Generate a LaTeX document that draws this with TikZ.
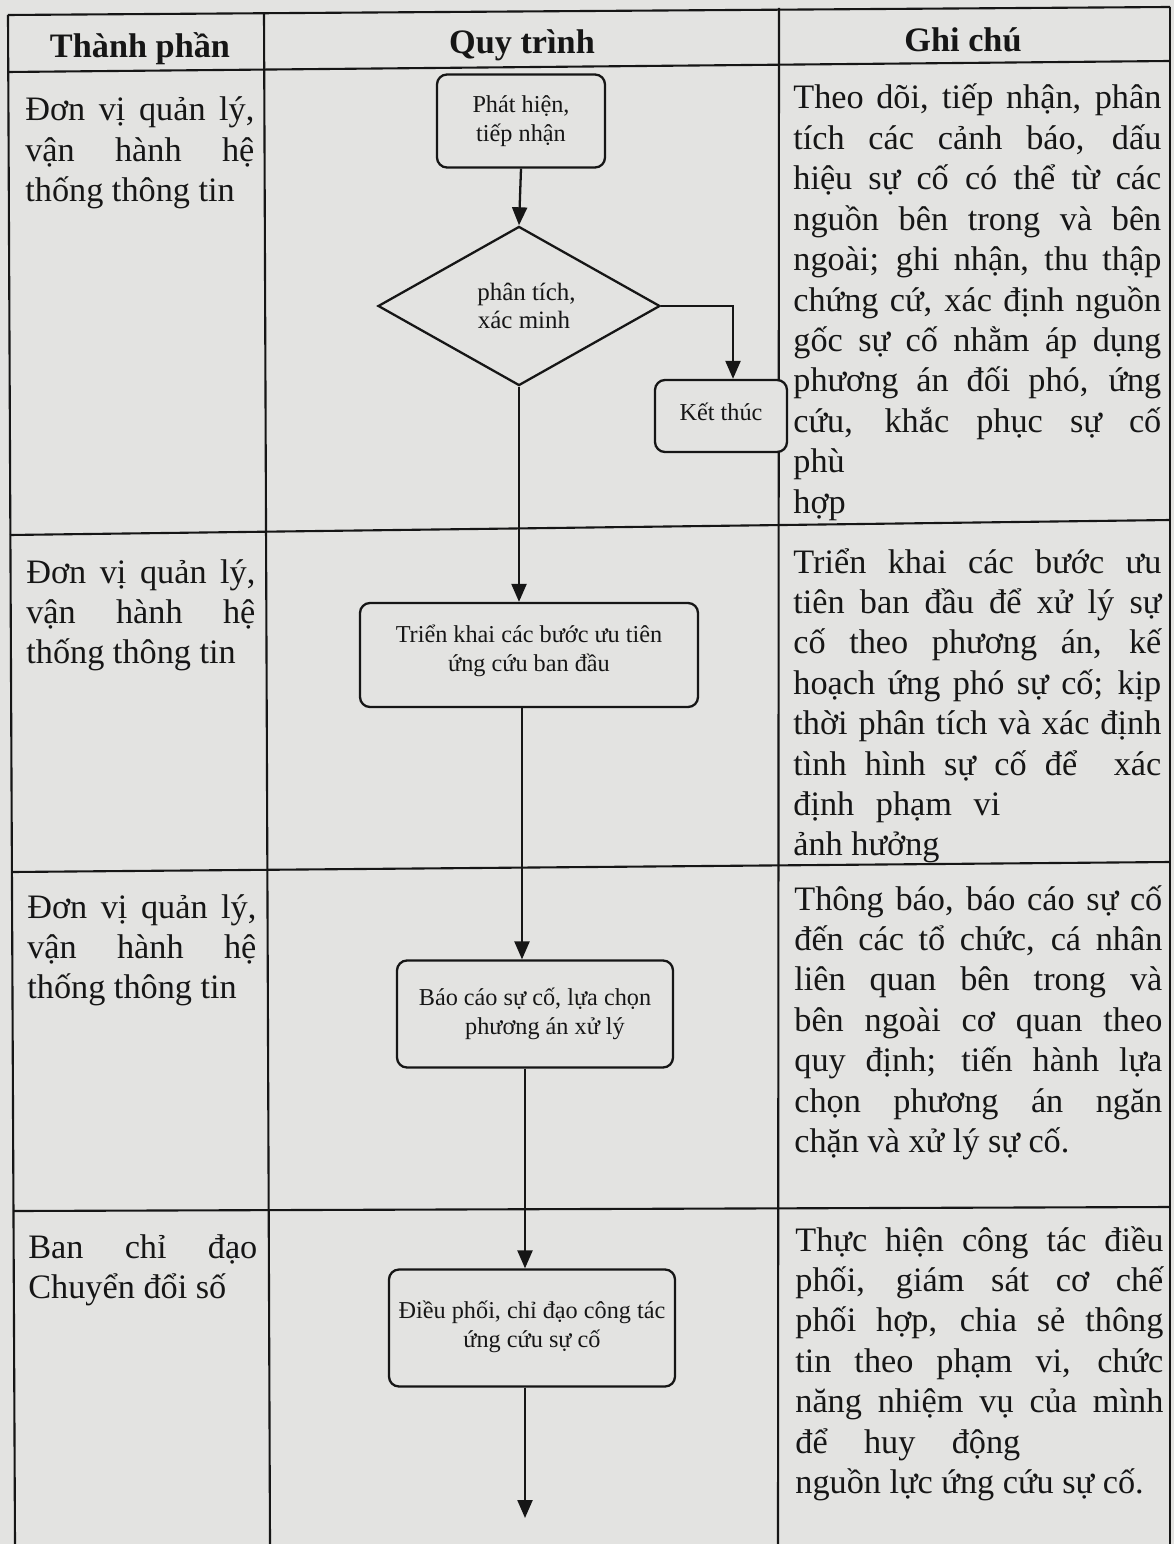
\documentclass[tikz,border=0pt]{standalone}
\usepackage{fontspec}
\setmainfont{Liberation Serif}
\usepackage{xcolor}
\usepackage{tikz}
\usetikzlibrary{shapes.geometric,arrows.meta}
\definecolor{paper}{HTML}{E3E3E1}
\definecolor{ink}{HTML}{161616}
\newcommand{\fillline}[1]{\makebox[\linewidth][s]{#1}}
\tikzset{
  grid/.style={draw=ink, line width=1.2pt},
  stepbox/.style={draw=ink, fill=paper, line width=1.3pt, rounded corners=2mm, align=center, inner sep=1pt, font=\fontsize{13.8}{16.5}\selectfont},
  decision/.style={diamond, draw=ink, line width=1.3pt, align=center, inner sep=0pt, font=\fontsize{14.2}{16}\selectfont},
  flow/.style={draw=ink, line width=1.3pt, -{Triangle[length=3.6mm,width=3mm]}},
  head/.style={font=\fontsize{19.5}{23}\selectfont\bfseries},
  cell/.style={anchor=base west, inner sep=0pt, font=\fontsize{19.5}{23}\selectfont},
  every node/.style={text=ink}
}

\begin{document}
\begin{tikzpicture}[x=0.2mm,y=-0.2mm]
  \useasboundingbox (0,0) rectangle (1174,1544);
  \fill[paper] (0,0) rectangle (1174,1544);

  % table lines
  \draw[grid] (8,15) -- (1170,7);
  \draw[grid] (8,72) -- (1170,61);
  \draw[grid] (10,535) -- (1170,520);
  \draw[grid] (12,872) -- (1170,862);
  \draw[grid] (14,1211) -- (1170,1207);
  \draw[grid] (8,15) -- (15,1544);
  \draw[grid] (264,13) -- (270,1544);
  \draw[grid] (779,8) -- (778,1544);
  \draw[grid] (1170,7) -- (1170,1544);

  % header
  \node[head] (hpart) at (140,49) {Thành phần};
  \node[head] (hflow) at (522,45) {Quy trình};
  \node[head] (hnote) at (963,40) {Ghi chú};

  % who
  \node[cell] (who1) at (25,121) {\parbox[t]{45.8mm}{\fillline{Đơn vị quản lý,}\\\fillline{vận hành hệ}\\thống thông tin}};
  \node[cell] (who2) at (26,583) {\parbox[t]{45.8mm}{\fillline{Đơn vị quản lý,}\\\fillline{vận hành hệ}\\thống thông tin}};
  \node[cell] (who3) at (27,918) {\parbox[t]{45.8mm}{\fillline{Đơn vị quản lý,}\\\fillline{vận hành hệ}\\thống thông tin}};
  \node[cell] (who4) at (28,1258) {\parbox[t]{45.8mm}{\fillline{Ban chỉ đạo}\\Chuyển đổi số}};

  % notes
  \node[cell] (note1) at (793,109) {\parbox[t]{73.6mm}{%
    \fillline{Theo dõi, tiếp nhận, phân}\\
    \fillline{tích các cảnh báo, dấu}\\
    \fillline{hiệu sự cố có thể từ các}\\
    \fillline{nguồn bên trong và bên}\\
    \fillline{ngoài; ghi nhận, thu thập}\\
    \fillline{chứng cứ, xác định nguồn}\\
    \fillline{gốc sự cố nhằm áp dụng}\\
    \fillline{phương án đối phó, ứng}\\
    \fillline{cứu, khắc phục sự cố}\\
    phù\\
    hợp}};
  \node[cell] (note2) at (793,573) {\parbox[t]{73.6mm}{%
    \fillline{Triển khai các bước ưu}\\
    \fillline{tiên ban đầu để xử lý sự}\\
    \fillline{cố theo phương án, kế}\\
    \fillline{hoạch ứng phó sự cố; kịp}\\
    \fillline{thời phân tích và xác định}\\
    \fillline{tình hình sự cố để \ xác}\\
    \makebox[41.4mm][s]{định phạm vi}\\
    ảnh hưởng}};
  \node[cell] (note3) at (794,910) {\parbox[t]{73.6mm}{%
    \fillline{Thông báo, báo cáo sự cố}\\
    \fillline{đến các tổ chức, cá nhân}\\
    \fillline{liên quan bên trong và}\\
    \fillline{bên ngoài cơ quan theo}\\
    \fillline{quy định; tiến hành lựa}\\
    \fillline{chọn phương án ngăn}\\
    chặn và xử lý sự cố.}};
  \node[cell] (note4) at (795,1251) {\parbox[t]{73.6mm}{%
    \fillline{Thực hiện công tác điều}\\
    \fillline{phối, giám sát cơ chế}\\
    \fillline{phối hợp, chia sẻ thông}\\
    \fillline{tin theo phạm vi, chức}\\
    \fillline{năng nhiệm vụ của mình}\\
    \makebox[45mm][s]{để huy động}\\
    nguồn lực ứng cứu sự cố.}};

  % flow
  \node[stepbox, minimum width=33.6mm, minimum height=18.6mm] (detect) at (521,121) {Phát hiện,\\tiếp nhận};
  \node[decision, minimum width=56.4mm, minimum height=30.4mm] (verify) at (519,306) {\hspace*{3mm}phân tích,\\\hspace*{2mm}xác minh};
  \node[stepbox, minimum width=26.4mm, minimum height=14.4mm, text depth=1.6mm] (finish) at (721,416) {Kết thúc};
  \node[stepbox, minimum width=67.6mm, minimum height=20.8mm, text depth=2.6mm] (firstaid) at (529,655) {Triển khai các bước ưu tiên\\ứng cứu ban đầu};
  \node[stepbox, minimum width=55.2mm, minimum height=21.4mm] (report) at (535,1014) {Báo cáo sự cố, lựa chọn\\\hspace*{4mm}phương án xử lý};
  \node[stepbox, minimum width=57.2mm, minimum height=23.4mm, text depth=1.4mm] (direct) at (532,1328) {Điều phối, chỉ đạo công tác\\ứng cứu sự cố};
  \coordinate (flowend) at (525,1518);

  \draw[flow] (detect.south) -- (verify.north);
  \draw[flow] (verify.east) -| ([xshift=2.4mm]finish.north);
  \draw[flow] (verify.south) -- (verify.south |- firstaid.north);
  \draw[flow] ([xshift=-1.4mm]firstaid.south) -- ([xshift=-1.4mm]firstaid.south |- report.north);
  \draw[flow] ([xshift=-2mm]report.south) -- ([xshift=-2mm]report.south |- direct.north);
  \draw[flow] (flowend |- direct.south) -- (flowend);
\end{tikzpicture}
\end{document}
